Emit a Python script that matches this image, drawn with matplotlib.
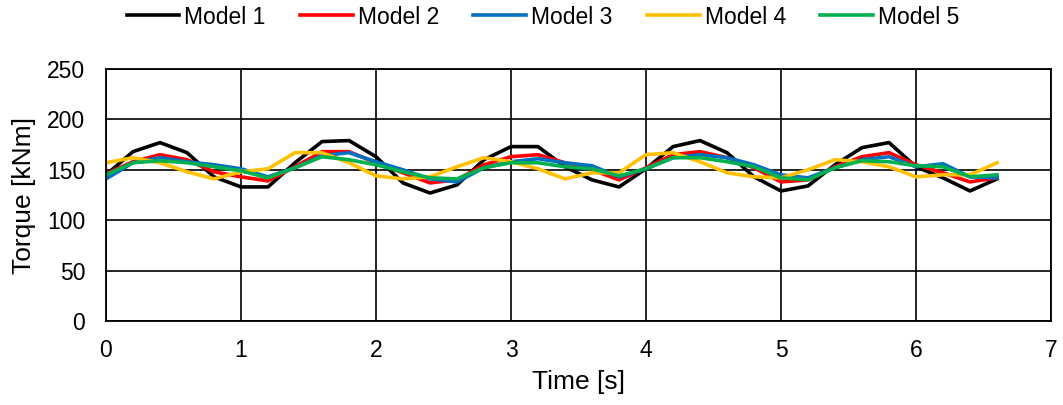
import numpy as np
import matplotlib.pyplot as plt

plt.rcParams['font.family'] = ['Liberation Sans', 'DejaVu Sans']

# time axis, 0.2 s steps
time_s = [round(0.2 * i, 1) for i in range(34)]

model1 = [145, 168, 177, 167, 143, 133, 133, 157, 178, 179, 163,
          137, 127, 135, 160, 173, 173, 153, 140, 133, 151,
          173, 179, 167, 143, 129, 134, 155, 172, 177, 153,
          142, 129, 141]
model2 = [146, 158, 165, 160, 148, 143, 139, 153, 168, 168, 157,
          147, 137, 140, 155, 163, 165, 157, 150, 140, 152,
          165, 168, 162, 152, 138, 140, 153, 163, 167, 155,
          147, 138, 142]
model3 = [141, 157, 162, 158, 155, 151, 143, 152, 164, 167, 158,
          150, 141, 138, 152, 158, 161, 157, 154, 143, 151,
          162, 165, 162, 155, 145, 142, 152, 160, 163, 153,
          156, 143, 142]
model4 = [157, 162, 157, 148, 141, 148, 151, 167, 167, 157, 144,
          141, 143, 153, 162, 158, 151, 141, 147, 147, 165,
          167, 158, 147, 143, 142, 150, 160, 158, 153, 143,
          145, 145, 157]
model5 = [145, 157, 159, 157, 153, 149, 142, 152, 163, 160, 155,
          148, 142, 141, 152, 157, 157, 153, 151, 144, 151,
          162, 162, 158, 153, 142, 140, 152, 159, 158, 154,
          153, 143, 145]

series = [('Model 1', model1, 'black'),
          ('Model 2', model2, '#FF0000'),
          ('Model 3', model3, '#0070C0'),
          ('Model 4', model4, '#FFC000'),
          ('Model 5', model5, '#00B050')]

W, H = 1063, 405
fig = plt.figure(figsize=(W / 100, H / 100), dpi=100)
ax = fig.add_axes([106 / W, 1 - 321 / H, (1051 - 106) / W, (321 - 69) / H])

for name, vals, col in series:
    ax.plot(time_s, vals, color=col, linewidth=2.6, label=name)

ax.set_xlim(0, 7)
ax.set_ylim(0, 250)
ax.set_xticks(np.arange(0, 8, 1))
ax.set_yticks(np.arange(0, 251, 50))
ax.grid(True, color='black', linewidth=1.2)
ax.set_axisbelow(True)
for sp in ax.spines.values():
    sp.set_color('black')
    sp.set_linewidth(1.3)
ax.tick_params(length=0, labelsize=16.5)
ax.tick_params(axis='x', pad=13)
ax.tick_params(axis='y', pad=15)
ax.set_xlabel('Time [s]', fontsize=19, labelpad=6)
ax.set_ylabel('Torque [kNm]', fontsize=19, labelpad=8)

fig.legend(*ax.get_legend_handles_labels(), loc='center',
           bbox_to_anchor=(543 / W, 1 - 17 / H), ncol=5, frameon=False,
           fontsize=16.5, handlelength=2.3, handletextpad=0.22, columnspacing=1.5,
           borderaxespad=0, borderpad=0)

fig.savefig('out.png', dpi=100)
